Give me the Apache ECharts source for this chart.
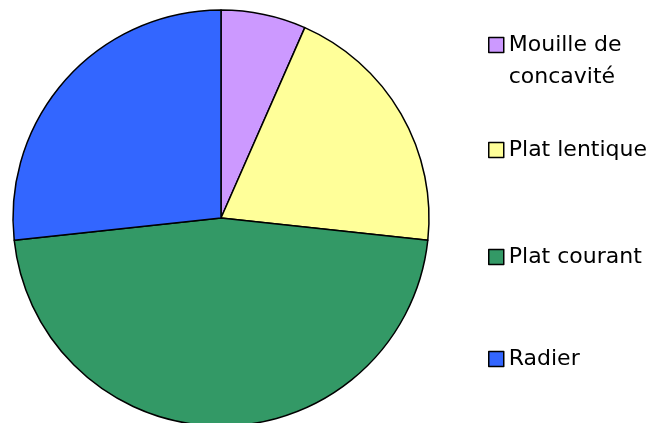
<!DOCTYPE html>
<html>
<head>
<meta charset="utf-8">
<script src="https://cdn.jsdelivr.net/npm/echarts@6/dist/echarts.min.js"></script>
<style>
  html, body { margin: 0; padding: 0; background: #fff; }
  #main { width: 649px; height: 423px; }
</style>
</head>
<body>
<div id="main"></div>
<script type="text/javascript">
    // données (parts en %)
    var categories = ['Mouille de concavité', 'Plat lentique', 'Plat courant', 'Radier'];
    var values = [6.6, 20.1, 46.6, 26.7];
    var colors = ['#CC99FF', '#FFFF99', '#339966', '#3366FF'];

    // centre vertical voulu de chaque carré de légende
    var legendCenters = [45, 150, 257, 359];

    var myChart = echarts.init(document.getElementById('main'));

    var lineH = 32;
    var legends = [];
    for (var i = 0; i < categories.length; i++) {
        // la première entrée a trois lignes (une vide au-dessus) pour que le carré reste sur la 1re ligne
        var nLines = i == 0 ? 3 : 1;
        legends.push({
            data: [categories[i]],
            left: 488,
            top: legendCenters[i] - nLines * lineH / 2,
            padding: 0,
            itemWidth: 15,
            itemHeight: 15,
            icon: 'rect',
            selectedMode: false,
            itemStyle: { borderColor: '#000', borderWidth: 1.5 },
            formatter: function (name) {
                return name == 'Mouille de concavité' ? '\nMouille de\nconcavité' : name;
            },
            textStyle: {
                fontFamily: 'DejaVu Sans',
                fontSize: 22,
                color: '#000',
                lineHeight: lineH
            }
        });
    }

    var data = [];
    for (var j = 0; j < categories.length; j++) {
        data.push({ name: categories[j], value: values[j], itemStyle: { color: colors[j] } });
    }

    option = {
        animation: false,
        legend: legends,
        series: [
            {
                type: 'pie',
                center: [221, 218],
                radius: 208,
                startAngle: 90,
                clockwise: true,
                label: { show: false },
                labelLine: { show: false },
                emphasis: { disabled: true },
                itemStyle: { borderColor: '#000', borderWidth: 1.5 },
                data: data
            }
        ]
    };

    myChart.setOption(option);
</script>
</body>
</html>
